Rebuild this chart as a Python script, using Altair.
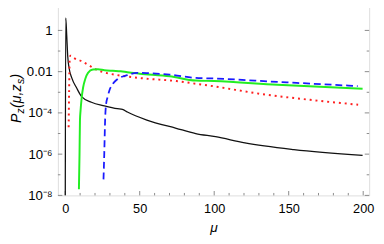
import altair as alt
import pandas as pd

# ---- data (mu, P) ----
black_mu = [0.05, 0.35, 1.0, 1.7, 2.6, 4.4, 7.7, 11, 17.6, 26.3, 35, 38.4, 41.7, 54.8, 74.5, 87.6, 100.9, 120.6, 153.5, 199.6]
black_p  = [1e-8, 4.0, 0.6, 0.054, 0.015, 5.0e-3, 1.6e-3, 6.2e-4, 3.3e-4, 2.2e-4, 1.6e-4, 1.48e-4, 1.1e-4, 4.5e-5, 1.8e-5, 1.0e-5, 7.0e-6, 3.5e-6, 1.66e-6, 8.7e-7]

red_mu = [2.3, 2.6, 3.0, 3.5, 6, 11, 16, 20.8, 28, 35, 52.6, 74.5, 87.6, 98.7, 131.5, 164.4, 196.6]
red_p  = [2e-5, 1e-3, 0.04, 0.06, 0.045, 0.032, 0.02, 0.0126, 8.5e-3, 6.8e-3, 4.7e-3, 3.5e-3, 2.6e-3, 2.0e-3, 8.3e-4, 4.3e-4, 2.5e-4]

green_mu = [9.2, 9.6, 9.9, 10.3, 11, 12, 13.5, 15.3, 18.6, 22, 26.3, 32, 37.3, 41.7, 50, 70.2, 87.6, 99.8, 142.4, 199.6]
green_p  = [2e-8, 1e-6, 4.5e-5, 1.3e-4, 5e-4, 1.7e-3, 4.5e-3, 8.7e-3, 0.0126, 0.013, 0.0117, 0.011, 0.0105, 9.3e-3, 8e-3, 6e-3, 3.7e-3, 3.5e-3, 2.3e-3, 1.5e-3]

blue_mu = [25.7, 26.2, 26.8, 27.4, 28.5, 29.6, 32, 35, 41.7, 48.2, 55, 70.2, 87.6, 98.7, 142.4, 196.3]
blue_p  = [6e-8, 1e-6, 5e-5, 2.5e-4, 6e-4, 1.2e-3, 2.6e-3, 4.3e-3, 6.8e-3, 8.7e-3, 8.5e-3, 7.2e-3, 5e-3, 4.7e-3, 3.2e-3, 2.0e-3]

x_major = [0, 50, 100, 150, 200]
x_minor = [10, 20, 30, 40, 60, 70, 80, 90, 110, 120, 130, 140, 160, 170, 180, 190]
y_major = [1, 1e-2, 1e-4, 1e-6, 1e-8]
y_minor = [0.1, 1e-3, 1e-5, 1e-7]
y_labels = ["1", "0.01", "10⁻⁴", "10⁻⁶", "10⁻⁸"]

W, H = 318, 196
FONT = "Liberation Sans"
FRAME = "#8a8a8a"

xs = alt.Scale(domain=[-4.9, 204], nice=False, zero=False)
ys = alt.Scale(type="log", domain=[1e-8, 20], nice=False)

label_expr = " : ".join(
    [f"datum.value == {v} ? '{l}'" for v, l in zip(y_major, y_labels)]) + " : ''"

def series(mu, p, color, width, dash=None):
    df = pd.DataFrame({"mu": mu, "p": p, "i": range(len(mu))})
    kw = dict(color=color, strokeWidth=width, clip=True, strokeJoin="round",
              interpolate="monotone")
    if dash:
        kw["strokeDash"] = dash
    return alt.Chart(df).mark_line(**kw).encode(
        x=alt.X("mu:Q", scale=xs),
        y=alt.Y("p:Q", scale=ys),
        order="i:Q",
    )

base_axes = alt.Chart(pd.DataFrame({"mu": [0], "p": [1]})).mark_point(opacity=0).encode(
    x=alt.X("mu:Q", scale=xs, title="μ",
            axis=alt.Axis(values=x_major, ticks=False, domain=False, grid=False,
                          labelFont=FONT, labelFontSize=13, labelColor="black",
                          labelPadding=7, titleFont=FONT, titleFontSize=14,
                          titleFontStyle="italic", titleFontWeight="normal",
                          titleColor="black", titlePadding=6)),
    y=alt.Y("p:Q", scale=ys, title=None,
            axis=alt.Axis(values=y_major, labelExpr=label_expr, ticks=False,
                          domain=False, grid=False, labelFont=FONT,
                          labelFontSize=13.5, labelColor="black", labelPadding=6)),
)

def xticks(vals, length):
    df = pd.DataFrame({"mu": vals})
    b = alt.Chart(df).mark_rule(color=FRAME, strokeWidth=1)
    bottom = b.encode(x=alt.X("mu:Q", scale=xs), y=alt.value(H), y2=alt.value(H - length))
    top = b.encode(x=alt.X("mu:Q", scale=xs), y=alt.value(0), y2=alt.value(length))
    return [bottom, top]

def yticks(vals, length):
    df = pd.DataFrame({"p": vals})
    b = alt.Chart(df).mark_rule(color=FRAME, strokeWidth=1)
    left = b.encode(y=alt.Y("p:Q", scale=ys), x=alt.value(0), x2=alt.value(length))
    right = b.encode(y=alt.Y("p:Q", scale=ys), x=alt.value(W), x2=alt.value(W - length))
    return [left, right]

# y title pieces: P_z(mu, z_s), rotated (text, size, baseline x, start y)
title_pieces = [
    ("P", 14.5, -38, 122),
    ("z", 10.5, -34.5, 112.2),
    ("(μ,z", 14.5, -38, 106.6),
    ("s", 10.5, -34.5, 82.1),
    (")", 14.5, -38, 76.6),
]
title_layers = []
for txt, fs, bx, by in title_pieces:
    title_layers.append(
        alt.Chart(pd.DataFrame({"t": [txt]})).mark_text(
            angle=270, align="left", baseline="alphabetic", font=FONT,
            fontSize=fs, fontStyle="italic", color="black"
        ).encode(text="t:N", x=alt.value(bx), y=alt.value(by))
    )

layers = [base_axes]
layers += xticks(x_major, 4.5) + xticks(x_minor, 2.5)
layers += yticks(y_major, 4.5) + yticks(y_minor, 2.5)
layers += [
    series(black_mu, black_p, "#111111", 1.3),
    series(red_mu, red_p, "#ff2020", 2.0, [2, 4]),
    series(green_mu, green_p, "#22ee22", 2.0),
    series(blue_mu, blue_p, "#1a1aff", 1.8, [7, 4]),
]
layers += title_layers

chart = alt.layer(*layers).properties(
    width=W, height=H,
    autosize=alt.AutoSizeParams(type="none"),
    padding={"left": 51, "top": -7, "right": 7, "bottom": 39},
).configure_view(stroke=FRAME, strokeWidth=1.3).configure(background="white")

chart.save("out.html", embed_options={"renderer": "svg", "actions": False})
